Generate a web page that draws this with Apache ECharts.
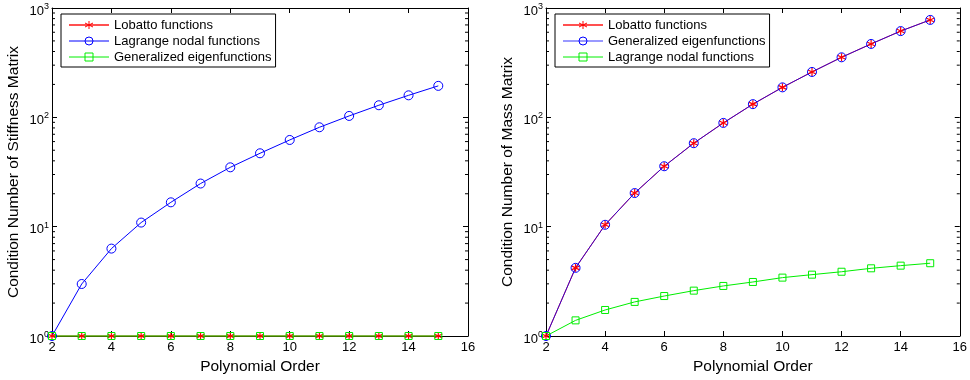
<!DOCTYPE html>
<html>
<head>
<meta charset="utf-8">
<script src="https://cdn.jsdelivr.net/npm/echarts@6/dist/echarts.min.js"></script>
<style>
html,body{margin:0;padding:0;background:#fff;}
#chart{width:970px;height:380px;}
</style>
</head>
<body>
<div id="chart"></div>
<script>
// ---- data ----
const polyOrder = [2, 3, 4, 5, 6, 7, 8, 9, 10, 11, 12, 13, 14, 15];
const stiffLobatto = [1, 1, 1, 1, 1, 1, 1, 1, 1, 1, 1, 1, 1, 1];
const stiffLagrange = [1, 2.99, 6.3, 10.9, 16.7, 24.8, 34.9, 46.9, 62.1, 81.1, 103, 129, 159, 194];
const stiffEigen = [1, 1, 1, 1, 1, 1, 1, 1, 1, 1, 1, 1, 1, 1];
const massLobatto = [1, 4.2, 10.4, 20.3, 35.7, 58, 88.9, 132, 188, 260, 354, 469, 615, 778];
const massEigen = [1, 4.2, 10.4, 20.3, 35.7, 58, 88.9, 132, 188, 260, 354, 469, 615, 778];
const massLagrange = [1, 1.39, 1.73, 2.05, 2.32, 2.60, 2.87, 3.12, 3.42, 3.64, 3.87, 4.16, 4.40, 4.63];
const minorTickValues = [2,3,4,5,6,7,8,9,20,30,40,50,60,70,80,90,200,300,400,500,600,700,800,900];
const NAME_LOB = 'Lobatto functions';
const NAME_LAG = 'Lagrange nodal functions';
const NAME_EIG = 'Generalized eigenfunctions';
const xTitle = 'Polynomial Order';
const leftYTitle = 'Condition Number of Stiffness Matrix';
const rightYTitle = 'Condition Number of Mass Matrix';

const FONT = 'Arial, "Liberation Sans", sans-serif';
const RED = '#ff0000', BLUE = '#0000ff', GREEN = '#00ee00';
const ASTERISK = 'path://M5 0 L5 10 M0.67 2.5 L9.33 7.5 M0.67 7.5 L9.33 2.5';
const ZW = '\u200b'; // suffix to keep right-panel series distinct from left-panel ones

function pairs(ys) { return polyOrder.map((x, i) => [x, ys[i]]); }

function xAxisMain(gi, show) {
  return {
    type: 'value', gridIndex: gi, min: 2, max: 16, interval: 2,
    position: show ? 'bottom' : 'top',
    name: show ? xTitle : '', nameLocation: 'middle', nameGap: 20,
    nameTextStyle: { fontSize: 15.5, color: '#000', fontFamily: FONT },
    axisLine: { onZero: false, lineStyle: { color: '#000', width: 1 } },
    axisTick: { show: true, inside: true, length: 5, lineStyle: { color: '#000' } },
    axisLabel: { show: show, fontSize: 13, color: '#000', fontFamily: FONT, margin: 5 },
    splitLine: { show: false }
  };
}
function yAxisMain(gi, show, title) {
  return {
    type: 'log', logBase: 10, gridIndex: gi, min: 1, max: 1000,
    position: show ? 'left' : 'right',
    name: show ? title : '', nameLocation: 'middle', nameGap: 30,
    nameTextStyle: { fontSize: 15.5, color: '#000', fontFamily: FONT },
    axisLine: { onZero: false, lineStyle: { color: '#000', width: 1 } },
    axisTick: { show: true, inside: true, length: 5, lineStyle: { color: '#000' } },
    axisLabel: {
      show: show, margin: 3, color: '#000', fontFamily: FONT,
      formatter: function (v) { return '{b|10}{s|' + Math.round(Math.log10(v)) + '}'; },
      rich: {
        b: { fontSize: 13, color: '#000', fontFamily: FONT, padding: [6, 0, 0, 0] },
        s: { fontSize: 9, color: '#000', fontFamily: FONT, padding: [0, 0, 3, 0] }
      }
    },
    splitLine: { show: false }
  };
}

function lineSeries(name, ys, xi, yi, kind, extra) {
  const s = {
    name: name, type: 'line', data: pairs(ys), xAxisIndex: xi, yAxisIndex: yi,
    clip: false, animation: false, silent: true
  };
  if (kind === 'lob') {
    s.color = RED;
    s.symbol = ASTERISK; s.symbolSize = 8;
    s.lineStyle = { color: RED, width: 1 };
    s.itemStyle = { color: 'rgba(0,0,0,0)', borderColor: RED, borderWidth: 1.2 };
  } else if (kind === 'lag') {
    s.color = BLUE;
    s.symbol = 'circle'; s.symbolSize = 9;
    s.lineStyle = { color: BLUE, width: 1 };
    s.itemStyle = { color: 'rgba(0,0,0,0)', borderColor: BLUE, borderWidth: 1 };
  } else {
    s.color = GREEN;
    s.symbol = 'rect'; s.symbolSize = 7;
    s.lineStyle = { color: GREEN, width: 1 };
    s.itemStyle = { color: 'rgba(0,0,0,0)', borderColor: GREEN, borderWidth: 1 };
  }
  return Object.assign(s, extra || {});
}

function minorTicks(xi, yi) {
  return {
    type: 'custom', xAxisIndex: xi, yAxisIndex: yi, silent: true, animation: false,
    clip: false, data: minorTickValues.map(v => [2, v]), z: 1,
    renderItem: function (params, api) {
      const v = api.value(1);
      const l = api.coord([2, v]);
      const r = api.coord([16, v]);
      return {
        type: 'group', children: [
          { type: 'line', shape: { x1: l[0], y1: l[1], x2: l[0] + 3, y2: l[1] }, style: { stroke: '#000', lineWidth: 1 } },
          { type: 'line', shape: { x1: r[0], y1: r[1], x2: r[0] - 3, y2: r[1] }, style: { stroke: '#000', lineWidth: 1 } }
        ]
      };
    }
  };
}

function legend(left, names) {
  return {
    left: left, top: 14, orient: 'vertical',
    data: names.map(n => n.indexOf(NAME_LOB) === 0
      ? { name: n, lineStyle: { color: '#ff5050', width: 2 } }
      : { name: n }),
    formatter: function (n) { return n.replace(/\u200b/g, ''); },
    backgroundColor: '#fff', borderColor: '#000', borderWidth: 1, borderRadius: 0,
    padding: [4, 4, 3, 7], itemGap: 2, itemWidth: 40, itemHeight: 10,
    lineStyle: { width: 1 },
    itemStyle: { borderWidth: 1 },
    textStyle: { fontSize: 13, lineHeight: 14, color: '#000', fontFamily: FONT },
    selectedMode: false
  };
}

const chart = echarts.init(document.getElementById('chart'), null, { renderer: 'canvas' });
chart.setOption({
  animation: false,
  backgroundColor: '#fff',
  grid: [
    { left: 52, right: 502, top: 8, bottom: 44 },
    { left: 546, right: 8, top: 8, bottom: 44 }
  ],
  xAxis: [xAxisMain(0, true), xAxisMain(0, false), xAxisMain(1, true), xAxisMain(1, false)],
  yAxis: [yAxisMain(0, true, leftYTitle), yAxisMain(0, false, ''), yAxisMain(1, true, rightYTitle), yAxisMain(1, false, '')],
  legend: [
    legend(61, [NAME_LOB, NAME_LAG, NAME_EIG]),
    legend(555, [NAME_LOB + ZW, NAME_EIG + ZW, NAME_LAG + ZW])
  ],
  series: [
    minorTicks(0, 0),
    minorTicks(2, 2),
    lineSeries(NAME_LOB, stiffLobatto, 0, 0, 'lob'),
    lineSeries(NAME_LAG, stiffLagrange, 0, 0, 'lag'),
    lineSeries(NAME_EIG, stiffEigen, 0, 0, 'eig'),
    lineSeries(NAME_LOB + ZW, massLobatto, 2, 2, 'lob'),
    lineSeries(NAME_EIG + ZW, massEigen, 2, 2, 'lag', { lineStyle: { color: BLUE, width: 1, opacity: 0.8 } }),
    lineSeries(NAME_LAG + ZW, massLagrange, 2, 2, 'eig')
  ]
});
</script>
</body>
</html>
